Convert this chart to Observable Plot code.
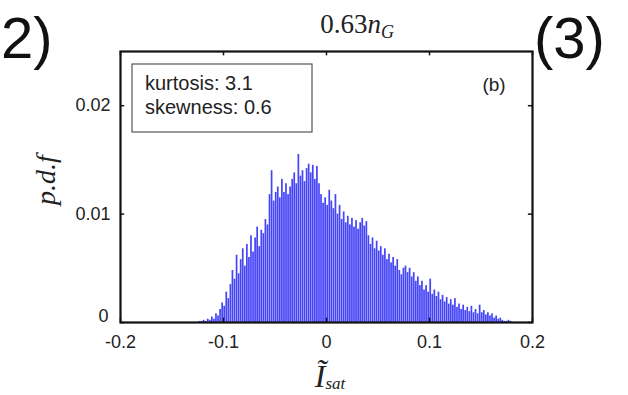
<!DOCTYPE html>
<html>
<head>
<meta charset="utf-8">
<script src="https://cdn.jsdelivr.net/npm/d3@7"></script>
<script src="https://cdn.jsdelivr.net/npm/@observablehq/plot@0.6"></script>
<style>
  html, body { margin: 0; padding: 0; background: #fff; }
  #chart { width: 628px; height: 395px; overflow: hidden; }
</style>
</head>
<body>
<div id="chart"></div>
<script>
// ---- data ----
const binStart = -0.124;   // left edge of first bin
const binWidth = 0.002;
const pdf = [
  0.0001, 0.0001, 0.0002, 0.0001, 0.0003, 0.0002, 0.0005, 0.0003, 0.0008, 0.0006,
  0.0012, 0.0018, 0.0015, 0.0028, 0.0022, 0.0035, 0.0048, 0.0040, 0.0062, 0.0045,
  0.0058, 0.0068, 0.0052, 0.0072, 0.0060, 0.0080, 0.0065, 0.0078, 0.0088, 0.0070,
  0.0085, 0.0082, 0.0095, 0.0090, 0.0118, 0.0140, 0.0112, 0.0120, 0.0125, 0.0115,
  0.0132, 0.0120, 0.0128, 0.0118, 0.0125, 0.0132, 0.0138, 0.0128, 0.0155, 0.0135,
  0.0140, 0.0130, 0.0142, 0.0146, 0.0138, 0.0145, 0.0132, 0.0144, 0.0128, 0.0118,
  0.0110, 0.0115, 0.0108, 0.0122, 0.0112, 0.0105, 0.0118, 0.0100, 0.0108, 0.0095,
  0.0102, 0.0092, 0.0098, 0.0090, 0.0096, 0.0088, 0.0094, 0.0086, 0.0092, 0.0096,
  0.0089, 0.0093, 0.0080, 0.0072, 0.0078, 0.0068, 0.0075, 0.0066, 0.0070, 0.0062,
  0.0068, 0.0058, 0.0063, 0.0055, 0.0060, 0.0052, 0.0058, 0.0048, 0.0044, 0.0050,
  0.0052, 0.0046, 0.0050, 0.0042, 0.0046, 0.0038, 0.0042, 0.0034, 0.0038, 0.0030,
  0.0034, 0.0028, 0.0040, 0.0026, 0.0030, 0.0024, 0.0028, 0.0021, 0.0025, 0.0019,
  0.0023, 0.0017, 0.0021, 0.0016, 0.0022, 0.0014, 0.0017, 0.0012, 0.0016, 0.0011,
  0.0014, 0.0010, 0.0015, 0.0009, 0.0012, 0.0008, 0.0016, 0.0009, 0.0011, 0.0007,
  0.0009, 0.0006, 0.0008, 0.0004, 0.0006, 0.0003, 0.0004, 0.0002, 0.0001, 0.0001,
  0.0002, 0.0001
];
const xTicks = [-0.2, -0.1, 0, 0.1, 0.2];
const xTickLabels = ["-0.2", "-0.1", "0", "0.1", "0.2"];
const yTicks = [0, 0.01, 0.02];
const yTickLabels = ["0", "0.01", "0.02"];
const statsLines = ["kurtosis: 3.1", "skewness: 0.6"];
const panelTag = "(b)";

const bins = pdf.map((v, i) => ({
  x1: binStart + i * binWidth,
  x2: binStart + (i + 1) * binWidth,
  y: v
}));
const xLab = xTicks.map((v, i) => ({ v, t: xTickLabels[i] }));
const yLab = yTicks.map((v, i) => ({ v, t: yTickLabels[i] }));

const W = 628, H = 395;
const mL = 120, mR = 96, mT = 51, mB = 73;
const sans = "'Liberation Sans', Arial, sans-serif";
const serif = "'Liberation Serif', 'DejaVu Serif', serif";

const plot = Plot.plot({
  width: W,
  height: H,
  marginLeft: mL,
  marginRight: mR,
  marginTop: mT,
  marginBottom: mB,
  style: { fontFamily: sans, fontSize: "17px", color: "#222", background: "#fff" },
  x: { domain: [-0.2, 0.2], axis: null },
  y: { domain: [0, 0.025], axis: null },
  marks: [
    Plot.rectY(bins, {
      x1: "x1", x2: "x2", y: "y",
      fill: "#4545f7", insetLeft: 0.35, insetRight: 0
    }),
    // inward ticks on all four sides
    Plot.ruleX(xTicks, { x: d => d, y1: 0, y2: 0.0004, stroke: "#111", strokeWidth: 1.5 }),
    Plot.ruleX(xTicks, { x: d => d, y1: 0.0246, y2: 0.025, stroke: "#111", strokeWidth: 1.5 }),
    Plot.ruleY(yTicks, { y: d => d, x1: -0.2, x2: -0.196, stroke: "#111", strokeWidth: 1.5 }),
    Plot.ruleY(yTicks, { y: d => d, x1: 0.196, x2: 0.2, stroke: "#111", strokeWidth: 1.5 }),
    // x tick labels
    Plot.text(xLab, {
      x: "v", frameAnchor: "bottom", dy: 20, lineAnchor: "middle",
      text: "t", fontSize: 18, fill: "#222"
    }),
    // y tick labels ("0" sits a little higher, as in the reference)
    Plot.text(yLab.filter(d => d.v !== 0), {
      y: "v", frameAnchor: "left", dx: -10, textAnchor: "end", lineAnchor: "middle",
      text: "t", fontSize: 18, fill: "#222"
    }),
    Plot.text(yLab.filter(d => d.v === 0), {
      y: "v", frameAnchor: "left", dx: -12, dy: -6, textAnchor: "end", lineAnchor: "middle",
      text: "t", fontSize: 18, fill: "#222"
    }),
    Plot.frame({ stroke: "#111", strokeWidth: 2.2 })
  ]
});

const container = document.getElementById("chart");
container.appendChild(plot);

const svg = d3.select(plot);

// stats box
const g = svg.append("g");
g.append("rect")
  .attr("x", 132).attr("y", 64).attr("width", 180).attr("height", 68)
  .attr("fill", "#fff").attr("stroke", "#555").attr("stroke-width", 1.2);
statsLines.forEach((t, i) => {
  g.append("text").attr("x", 145).attr("y", 90 + i * 24).attr("text-anchor", "start")
    .attr("font-family", sans).attr("font-size", 20).attr("fill", "#222").text(t);
});
// panel tag
svg.append("text").attr("x", 494).attr("y", 91).attr("text-anchor", "middle")
  .attr("font-family", sans).attr("font-size", 19).attr("fill", "#222").text(panelTag);

// title 0.63 n_G
const title = svg.append("text").attr("x", 357).attr("y", 33).attr("text-anchor", "middle")
  .attr("font-family", serif).attr("font-size", 27).attr("fill", "#222");
title.append("tspan").text("0.63");
title.append("tspan").attr("font-style", "italic").text("n");
title.append("tspan").attr("font-style", "italic").attr("font-size", 18).attr("dy", 5).text("G");

// y label p.d.f (rotated)
svg.append("text")
  .attr("transform", "translate(55,180) rotate(-90)")
  .attr("text-anchor", "middle")
  .attr("font-family", serif).attr("font-style", "italic").attr("font-size", 28).attr("fill", "#222")
  .text("p.d.f");

// x label Ĩ_sat
const xl = svg.append("text").attr("x", 330).attr("y", 387).attr("text-anchor", "middle")
  .attr("font-family", serif).attr("font-style", "italic").attr("fill", "#222");
xl.append("tspan").attr("font-size", 32).text("I\u0303");
xl.append("tspan").attr("font-size", 17).attr("dy", 2).text("sat");

// neighbouring panel labels (cropped in the reference)
svg.append("text").attr("x", 1).attr("y", 58).attr("text-anchor", "start")
  .attr("font-family", sans).attr("font-size", 58).attr("fill", "#111").text("2)");
svg.append("text").attr("x", 534).attr("y", 58).attr("text-anchor", "start")
  .attr("font-family", sans).attr("font-size", 58).attr("fill", "#111").text("(3)");
</script>
</body>
</html>
